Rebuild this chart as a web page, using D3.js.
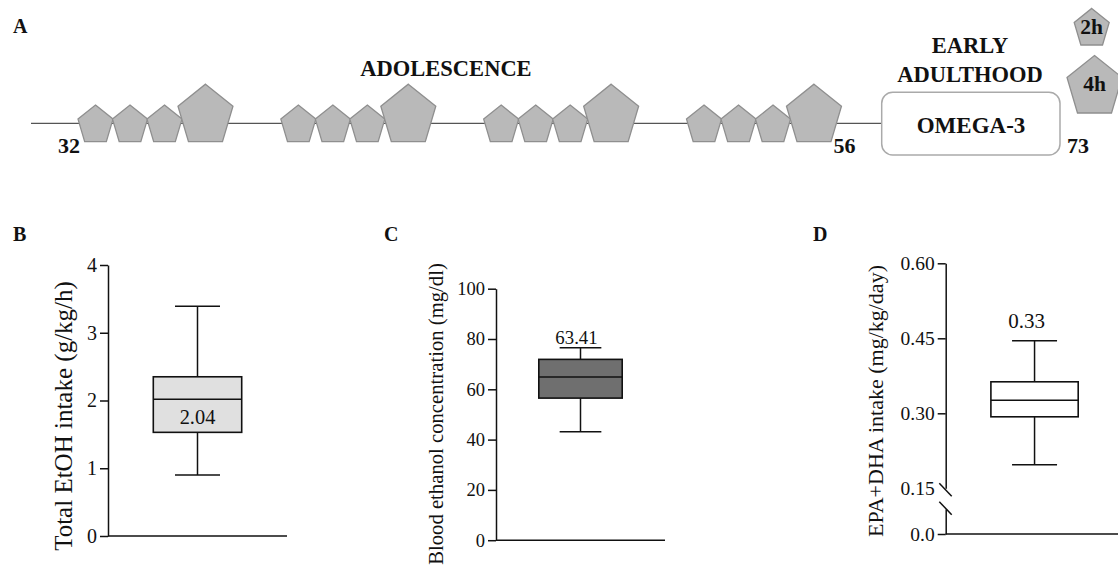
<!DOCTYPE html>
<html>
<head>
<meta charset="utf-8">
<script src="https://cdn.jsdelivr.net/npm/d3@7"></script>
<style>
  body { margin: 0; background: #fff; }
  text { font-family: "Liberation Serif", "Times New Roman", serif; fill: #111; }
</style>
</head>
<body>
<div id="chart"></div>
<script>
// ---- panel A: protocol timeline ----
const weeks = [1, 2, 3, 4];
const sessionHours = [2, 2, 2, 4];
const ages = [32, 56, 73];
const phaseAdolescence = 'ADOLESCENCE';
const phaseAdult = ['EARLY', 'ADULTHOOD'];
const treatment = 'OMEGA-3';
const legendHours = [2, 4];

// ---- panels B-D: box plots ----
const panels = ['B', 'C', 'D'];
const yTitles = ['Total EtOH intake (g/kg/h)', 'Blood ethanol concentration (mg/dl)', 'EPA+DHA intake (mg/kg/day)'];
const boxMin = [0.90, 43.1, 0.197];
const boxQ1 = [1.53, 56.5, 0.293];
const boxMedian = [2.02, 64.9, 0.326];
const boxQ3 = [2.35, 71.9, 0.363];
const boxMax = [3.39, 76.5, 0.445];
const meanLabels = ['2.04', '63.41', '0.33'];
const ticksB = [0, 1, 2, 3, 4];
const ticksC = [0, 20, 40, 60, 80, 100];
const ticksD = [0.15, 0.30, 0.45, 0.60];
const ticksDLow = [0];

const width = 1118, height = 568;
const svg = d3.select('#chart').append('svg')
  .attr('width', width).attr('height', height)
  .attr('viewBox', [0, 0, width, height]);

const ink = '#111';

// panel letters
const letterPos = { A: [13, 33], B: [13, 241], C: [384, 241], D: [813, 241] };
Object.entries(letterPos).forEach(([k, p]) => {
  svg.append('text').attr('x', p[0]).attr('y', p[1])
    .attr('font-size', 20).attr('font-weight', 'bold').text(k);
});

// ---------- A ----------
const gA = svg.append('g');
const lineY = 123.3;
const baseY = 141.7;
const pentR = { 2: 18.4, 4: 28.9 };
const sy = 1.1;

function pentagon(cx, by, R) {
  const cy = by - Math.sin(54 * Math.PI / 180) * R * sy;
  const pts = [-90, -18, 54, 126, 198].map(a => {
    const r = a * Math.PI / 180;
    return [cx + R * Math.cos(r), cy + R * Math.sin(r) * sy];
  });
  return d3.line().curve(d3.curveLinearClosed)(pts);
}

gA.append('line')
  .attr('x1', 31).attr('x2', 882).attr('y1', lineY).attr('y2', lineY)
  .attr('stroke', '#555').attr('stroke-width', 1.2);

const xWeek = d3.scaleLinear().domain([1, 4]).range([95.5, 704]);

const sessions = [];
weeks.forEach(w => {
  let off = 0;
  sessionHours.forEach((h, i) => {
    if (i > 0) {
      const prev = sessionHours[i - 1];
      off += (pentR[prev] + pentR[h]) * 0.951 - (h === 4 ? 4 : 0.5);
    }
    sessions.push({ week: w, hours: h, off });
  });
});

gA.selectAll('path.sess')
  .data(sessions)
  .join('path')
  .attr('class', 'sess')
  .attr('d', d => pentagon(xWeek(d.week) + d.off, baseY, pentR[d.hours]))
  .attr('fill', '#b9b9b9')
  .attr('stroke', '#8f8f8f')
  .attr('stroke-width', 1.3);

gA.append('text').attr('x', 446).attr('y', 76)
  .attr('text-anchor', 'middle').attr('font-size', 22.5).attr('font-weight', 'bold')
  .text(phaseAdolescence);

gA.selectAll('text.adult')
  .data(phaseAdult)
  .join('text')
  .attr('class', 'adult')
  .attr('x', 970).attr('y', (d, i) => 53 + i * 29)
  .attr('text-anchor', 'middle').attr('font-size', 22.5).attr('font-weight', 'bold')
  .text(d => d);

gA.append('rect')
  .attr('x', 881.7).attr('y', 92.3).attr('width', 178.3).attr('height', 62.7)
  .attr('rx', 11).attr('fill', '#fff').attr('stroke', '#aaa').attr('stroke-width', 1.5);
gA.append('text').attr('x', 971).attr('y', 133)
  .attr('text-anchor', 'middle').attr('font-size', 23).attr('font-weight', 'bold')
  .text(treatment);

const ageX = d3.scaleOrdinal().domain(ages).range([69, 844.5, 1078]);
gA.selectAll('text.age')
  .data(ages)
  .join('text')
  .attr('class', 'age')
  .attr('x', d => ageX(d)).attr('y', 153)
  .attr('text-anchor', 'middle').attr('font-size', 22).attr('font-weight', 'bold')
  .text(d => d);

// legend
const legendPos = d3.scaleOrdinal().domain(legendHours).range([[1091.7, 45], [1094.5, 113]]);
const gL = gA.selectAll('g.leg').data(legendHours).join('g').attr('class', 'leg');
gL.append('path')
  .attr('d', d => pentagon(legendPos(d)[0], legendPos(d)[1], pentR[d]))
  .attr('fill', '#b9b9b9').attr('stroke', '#8f8f8f').attr('stroke-width', 1.3);
gL.append('text')
  .attr('x', d => legendPos(d)[0]).attr('y', d => d === 2 ? 34 : 91)
  .attr('text-anchor', 'middle').attr('font-size', 21.5).attr('font-weight', 'bold')
  .text(d => d + 'h');

// ---------- B-D ----------
const layout = [
  { x0: 108, x1: 287, y0: 536, y1: 265, dom: [0, 4], ticks: ticksB, fmt: d3.format('d'), fill: '#e0e0e0',
    tickFont: 20, titleFont: 25, titleX: 72, titleY: 416, labelFont: 20.4, labelY: 424, boxW: 88.4, capW: 45 },
  { x0: 496, x1: 665, y0: 540.2, y1: 288.7, dom: [0, 100], ticks: ticksC, fmt: d3.format('d'), fill: '#6f6f6f',
    tickFont: 18.5, titleFont: 20.7, titleX: 443, titleY: 414, labelFont: 18.8, labelY: 343.5, boxW: 83.4, capW: 41.7 },
  { x0: 945.7, x1: 1123.4, y0: 488.3, y1: 263.3, dom: [0.15, 0.60], ticks: ticksD, fmt: d3.format('.2f'), fill: '#fff',
    tickFont: 19.5, titleFont: 22, titleX: 883, titleY: 401, labelFont: 21, labelY: 327.5, boxW: 87.3, capW: 45 }
];

panels.forEach((p, i) => {
  const L = layout[i];
  const g = svg.append('g');
  const y = d3.scaleLinear().domain(L.dom).range([L.y0, L.y1]);
  const x = d3.scalePoint().domain([p]).range([L.x0, L.x1]).padding(0.5);
  const cx = x(p);

  const ax = g.append('g')
    .attr('transform', `translate(${L.x0},0)`)
    .call(d3.axisLeft(y).tickValues(L.ticks).tickFormat(L.fmt).tickSize(8).tickPadding(3).tickSizeOuter(0));
  ax.selectAll('.domain').attr('stroke', ink).attr('stroke-width', 1.5);
  ax.selectAll('.tick line').attr('stroke', ink).attr('stroke-width', 1.5);
  ax.selectAll('.tick text').attr('font-size', L.tickFont).attr('fill', ink)
    .style('font-family', '"Liberation Serif", "Times New Roman", serif');

  let baseY = L.y0;
  if (p === 'D') {
    ax.selectAll('.tick').filter(d => d === 0.15).select('line').remove();
    const yLow = d3.scaleLinear().domain([0, 0.05]).range([534, 509]);
    const axLow = g.append('g')
      .attr('transform', `translate(${L.x0},0)`)
      .call(d3.axisLeft(yLow).tickValues(ticksDLow).tickFormat(d3.format('.1f')).tickSize(8).tickPadding(3).tickSizeOuter(0));
    axLow.selectAll('.domain').attr('stroke', ink).attr('stroke-width', 1.5);
    axLow.selectAll('.tick line').attr('stroke', ink).attr('stroke-width', 1.5);
    axLow.selectAll('.tick text').attr('font-size', L.tickFont).attr('fill', ink)
      .style('font-family', '"Liberation Serif", "Times New Roman", serif');
    // break marks
    [483.3, 501.7].forEach(sy0 => {
      g.append('line').attr('x1', 939.3).attr('x2', 951.7).attr('y1', sy0).attr('y2', sy0 + 13)
        .attr('stroke', ink).attr('stroke-width', 1.5);
    });
    baseY = yLow(0);
  }

  // x axis baseline
  g.append('line').attr('x1', L.x0).attr('x2', L.x1).attr('y1', baseY).attr('y2', baseY)
    .attr('stroke', ink).attr('stroke-width', 1.5);

  // whiskers
  g.append('line').attr('x1', cx).attr('x2', cx).attr('y1', y(boxMax[i])).attr('y2', y(boxQ3[i]))
    .attr('stroke', ink).attr('stroke-width', 1.5);
  g.append('line').attr('x1', cx).attr('x2', cx).attr('y1', y(boxQ1[i])).attr('y2', y(boxMin[i]))
    .attr('stroke', ink).attr('stroke-width', 1.5);
  [boxMax[i], boxMin[i]].forEach(v => {
    g.append('line').attr('x1', cx - L.capW / 2).attr('x2', cx + L.capW / 2).attr('y1', y(v)).attr('y2', y(v))
      .attr('stroke', ink).attr('stroke-width', 1.5);
  });
  g.append('rect')
    .attr('x', cx - L.boxW / 2).attr('width', L.boxW)
    .attr('y', y(boxQ3[i])).attr('height', y(boxQ1[i]) - y(boxQ3[i]))
    .attr('fill', L.fill).attr('stroke', ink).attr('stroke-width', 1.6);
  g.append('line').attr('x1', cx - L.boxW / 2).attr('x2', cx + L.boxW / 2)
    .attr('y1', y(boxMedian[i])).attr('y2', y(boxMedian[i]))
    .attr('stroke', ink).attr('stroke-width', 1.5);

  g.append('text').attr('x', cx - (p === 'D' ? 8 : (p === 'C' ? 4 : 0))).attr('y', L.labelY)
    .attr('text-anchor', 'middle').attr('font-size', L.labelFont).attr('fill', ink)
    .text(meanLabels[i]);

  g.append('text')
    .attr('transform', `translate(${L.titleX},${L.titleY}) rotate(-90)`)
    .attr('text-anchor', 'middle').attr('font-size', L.titleFont).attr('fill', ink)
    .text(yTitles[i]);
});
</script>
</body>
</html>
